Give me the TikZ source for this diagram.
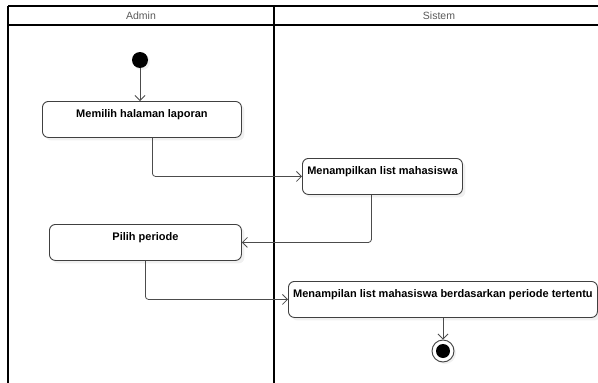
\documentclass[tikz,border=0pt]{standalone}
\usepackage{fontspec}
\setmainfont{Liberation Sans}
\usetikzlibrary{arrows.meta}
\usetikzlibrary{shadows}

\begin{document}
\begin{tikzpicture}[x=1pt, y=-1pt,
  lane/.style={line width=1.6pt},
  lanetitle/.style={text=black!65, font=\fontsize{10.5}{12}\selectfont},
  act/.style={draw=black!75, line width=0.9pt, fill=white, rounded corners=6pt, anchor=north west,
    drop shadow={opacity=0.12, shadow xshift=3pt, shadow yshift=-3pt},
    font=\bfseries\fontsize{11}{13}\selectfont, inner xsep=2pt, inner ysep=9pt,
    text height=7pt, text depth=11pt},
  flow/.style={draw=black!70, line width=0.8pt, rounded corners=3pt,
    -{Straight Barb[length=5pt, width=10pt]}}]
\useasboundingbox (0, 0) rectangle (598, 383);
\draw[lane] (8, 6) -- (598, 6);
\draw[lane] (8, 25) -- (598, 25);
\draw[lane] (8, 6) -- (8, 383);
\draw[lane] (274, 6) -- (274, 383);
\node[lanetitle] (admin) at (141, 16) {Admin};
\node[lanetitle] (sistem) at (439, 16) {Sistem};
\node[circle, fill=black, inner sep=0pt, minimum size=16pt,
  drop shadow={opacity=0.12, shadow xshift=2pt, shadow yshift=-2pt}] (mulai) at (140, 60) {};
\node[act, minimum width=199pt] (memilih) at (42, 101) {Memilih halaman laporan};
\node[act, minimum width=160pt] (tampil) at (302, 158) {Menampilkan list mahasiswa};
\node[act, minimum width=192pt] (periode) at (49, 224) {Pilih periode};
\node[act, minimum width=309pt] (hasil) at (288, 281) {Menampilan list mahasiswa berdasarkan periode tertentu};
\node[circle, draw=black!75, line width=0.9pt, fill=white, inner sep=0pt, minimum size=22pt,
  drop shadow={opacity=0.12, shadow xshift=2pt, shadow yshift=-2pt}] (akhir) at (443, 351) {};
\node[circle, fill=black, inner sep=0pt, minimum size=14pt] (akhirdot) at (akhir) {};
\draw[flow] (mulai) -- (mulai |- memilih.north);
\draw[flow] ([xshift=10.5pt]memilih.south) |- (tampil.west);
\draw[flow] ([xshift=-11pt]tampil.south) |- (periode.east);
\draw[flow] (periode.south) |- (hasil.west);
\draw[flow] (akhir |- hasil.south) -- (akhir.north);
\end{tikzpicture}
\end{document}
